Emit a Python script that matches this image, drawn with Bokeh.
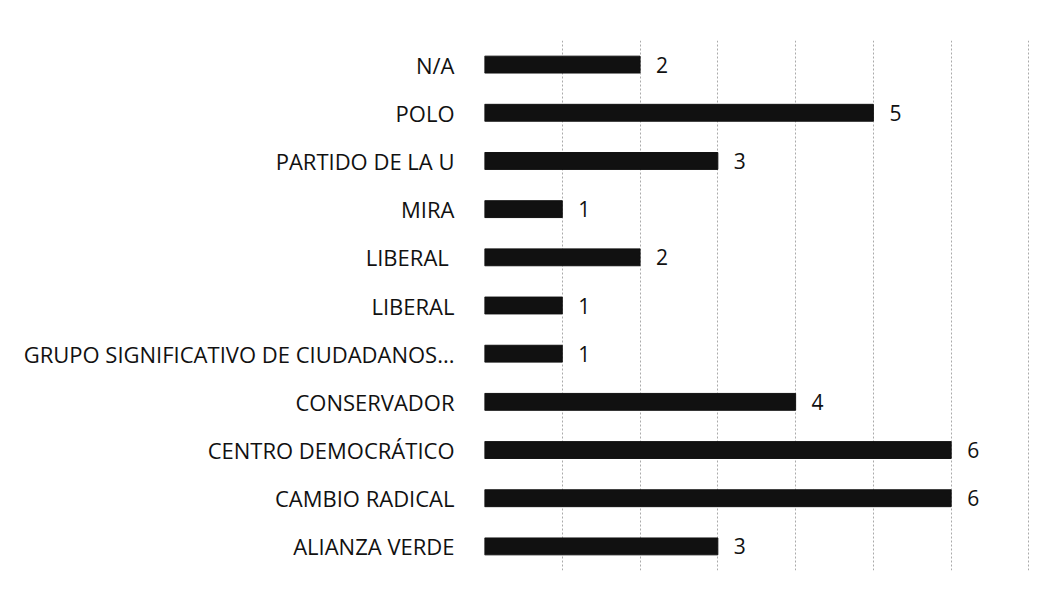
from bokeh.plotting import figure
from bokeh.models import ColumnDataSource, FixedTicker, Range1d
from bokeh.core.properties import value
from bokeh.embed import file_html
from bokeh.resources import INLINE

categories = ["ALIANZA VERDE", "CAMBIO RADICAL", "CENTRO DEMOCRÁTICO", "CONSERVADOR",
              "GRUPO SIGNIFICATIVO DE CIUDADANOS...", "LIBERAL", "LIBERAL ", "MIRA",
              "PARTIDO DE LA U", "POLO", "N/A"]
counts = [3, 6, 6, 4, 1, 1, 2, 1, 3, 5, 2]
labels = [str(c) for c in counts]
x_ticks = [0, 1, 2, 3, 4, 5, 6, 7]

src = ColumnDataSource(dict(cat=categories, val=counts, lab=labels))

p = figure(width=1043, height=588, y_range=categories, x_range=Range1d(0, 7.02),
           output_backend="svg", toolbar_location=None,
           min_border_left=484, min_border_right=13, min_border_top=40, min_border_bottom=18)

p.hbar(y="cat", right="val", left=0, height=0.35, source=src, color="#111111")
p.text(x="val", y="cat", text="lab", source=src, x_offset=16, text_align="left",
       text_baseline="middle", text_font=value("Open Sans"), text_font_size="21px",
       text_color="#111111")

p.xaxis.visible = False
p.xgrid.ticker = FixedTicker(ticks=x_ticks)
p.xgrid.grid_line_color = "#aaaaaa"
p.xgrid.grid_line_dash = "2 2"
p.ygrid.visible = False

ax = p.yaxis[0]
ax.axis_line_color = None
ax.major_tick_line_color = None
ax.minor_tick_line_color = None
ax.major_label_standoff = 24
ax.major_label_text_font = "Open Sans"
ax.major_label_text_font_size = "22px"
ax.major_label_text_color = "#111111"

p.outline_line_color = None
p.border_fill_color = "white"
p.background_fill_color = "white"

open("out.html", "w").write(file_html(p, INLINE))
